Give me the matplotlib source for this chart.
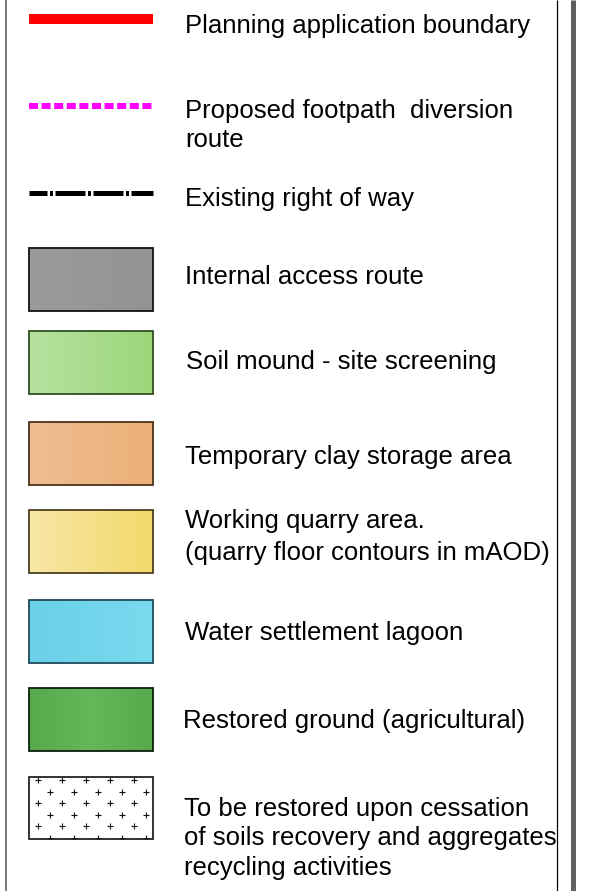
import matplotlib.pyplot as plt
import numpy as np
from matplotlib.colors import LinearSegmentedColormap
from matplotlib.patches import Rectangle

plt.rcParams['font.family'] = ['Liberation Sans', 'DejaVu Sans']
plt.rcParams['lines.scale_dashes'] = False

# legend entries
line_labels = ['Planning application boundary',
               'Proposed footpath  diversion\nroute',
               'Existing right of way']
line_colors = ['#ff0000', '#ff00ff', '#000000']

box_labels = ['Internal access route',
              'Soil mound - site screening',
              'Temporary clay storage area',
              'Working quarry area.\n(quarry floor contours in mAOD)',
              'Water settlement lagoon',
              'Restored ground (agricultural)']
box_fills = [['#9b9b9b', '#939393'],
             ['#b6e3a0', '#9cd57a'],
             ['#efbd91', '#ebb079'],
             ['#f8e6a6', '#f3d96b'],
             ['#6ad1e8', '#79d9ef'],
             ['#58a94b', '#65b75a', '#58a94b']]
box_edges = ['#111111', '#2f4f20', '#4a3218', '#4a4020', '#1e4a5a', '#0a200a']

pattern_label = 'To be restored upon cessation\nof soils recovery and aggregates\nrecycling activities'

# layout (pixels)
W, H = 598, 891
x0, x1 = 29, 153
line_y = [19, 106, 192.5]
line_w = [10, 6, 5]
line_text_y = [33, 118, 206]
box_top = [248, 331, 422, 510, 600, 688]
box_text_y = [284, 369, 464, 528, 640, 728]
box_text_x = [185, 186, 185, 185, 185, 183]
pat_top, pat_bot = 777, 839
fs = 18.55

fig = plt.figure(figsize=(W / 100, H / 100), dpi=100)
ax = fig.add_axes([0, 0, 1, 1])
ax.set_xlim(0, W)
ax.set_ylim(H, 0)
ax.axis('off')

def px(v):
    return v * 0.72

def put_text(x, y, s, lsp=30):
    for k, part in enumerate(s.split('\n')):
        ax.text(x, y + k * lsp, part, fontsize=fs, va='baseline', ha='left', color='#000000')

# frame lines
ax.plot([6, 6], [0, H], color='#7a7a7a', lw=px(2), solid_capstyle='butt')
ax.plot([557, 557], [0, H], color='#000000', lw=px(1.2), solid_capstyle='butt')
ax.plot([572.5, 572.5], [0, H], color='#5f5f5f', lw=px(5), solid_capstyle='butt')

# line symbols
styles = ['-', (0, (px(9), px(3.6))), (px(12), (px(30), px(2.5), px(3), px(2.5)))]
for i, lab in enumerate(line_labels):
    ax.plot([x0, x1], [line_y[i], line_y[i]], color=line_colors[i], lw=px(line_w[i]),
            linestyle=styles[i], solid_capstyle='butt', dash_capstyle='butt')
    put_text(185, line_text_y[i], lab, lsp=29)

# filled swatches
for i, lab in enumerate(box_labels):
    t = box_top[i]
    cmap = LinearSegmentedColormap.from_list('g%d' % i, box_fills[i])
    ax.imshow(np.linspace(0, 1, 200)[None, :], cmap=cmap, extent=(x0, x1, t + 63, t),
              aspect='auto', interpolation='bilinear', zorder=1)
    ax.add_patch(Rectangle((x0, t), x1 - x0, 63, fill=False, edgecolor=box_edges[i],
                           lw=px(1.8), zorder=2))
    put_text(box_text_x[i], box_text_y[i], lab, lsp=32)

# plus-pattern swatch
pat = Rectangle((x0, pat_top), x1 - x0, pat_bot - pat_top, facecolor='white',
                edgecolor='#222222', lw=px(1.8), zorder=2)
ax.add_patch(pat)
px_list, py_list = [], []
for r, yy in enumerate([780, 791.5, 803, 814.5, 826, 838]):
    xs = [38, 62, 86, 110, 134] if r % 2 == 0 else [50, 74, 98, 122, 146]
    px_list += xs
    py_list += [yy] * len(xs)
sc = ax.scatter(px_list, py_list, marker='+', s=20, c='#111111', linewidths=0.8, zorder=3)
sc.set_clip_path(pat)
put_text(184, 816, pattern_label, lsp=29.5)

fig.savefig('out.png', dpi=100)
